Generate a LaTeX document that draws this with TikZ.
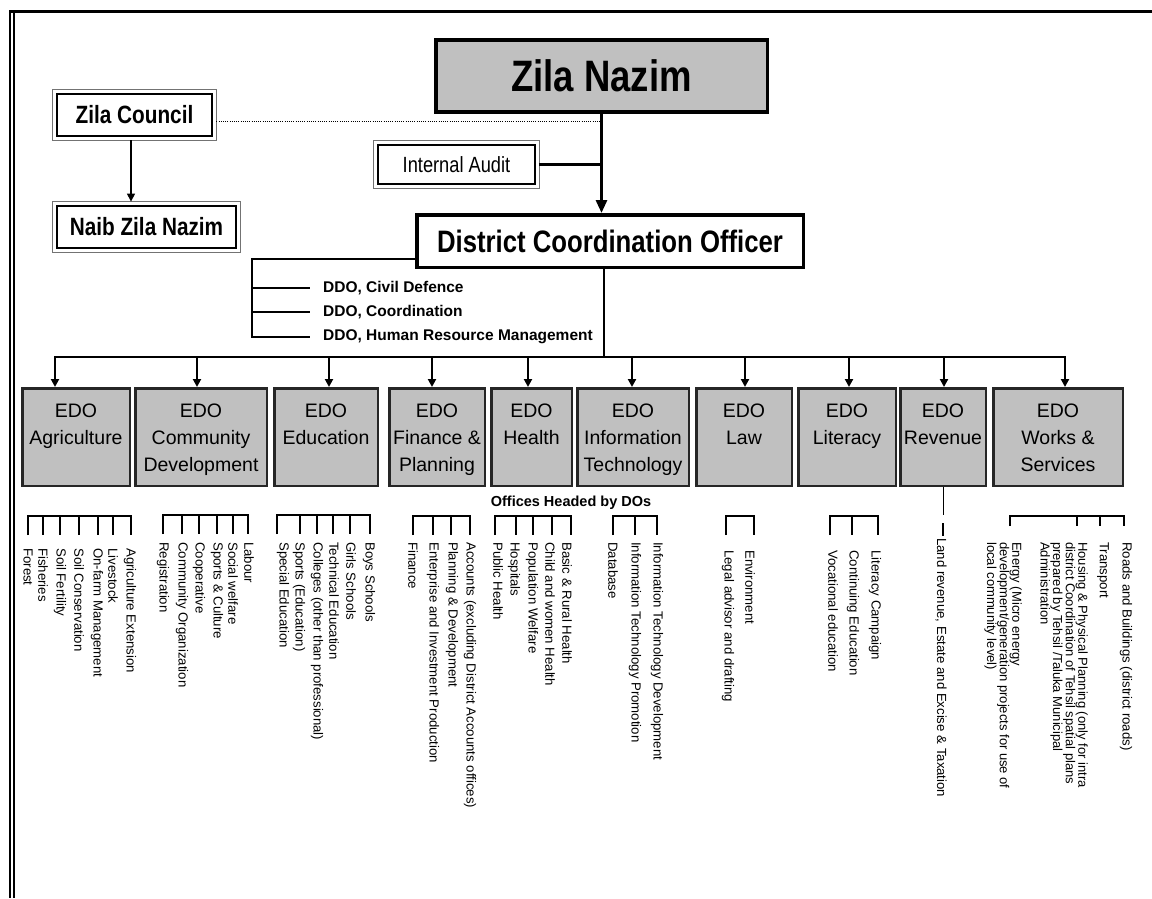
\documentclass[tikz,border=0pt]{standalone}
\usepackage{fontspec}
\setmainfont{Liberation Sans}
\newfontfamily\narrowsans[FakeStretch=0.83]{Liberation Sans}
\usetikzlibrary{arrows.meta}
\definecolor{boxgray}{HTML}{C0C0C0}
\newcommand{\fsz}[2]{\fontsize{#1}{#2}\selectfont}
\begin{document}
\begin{tikzpicture}[x=1pt,y=-1pt,
  frame/.style={line width=2pt},
  conn/.style={line width=2.8pt},
  brk/.style={line width=1.8pt},
  dblbox/.style={draw=black, line width=1.8pt, fill=white, inner sep=0pt, font=\narrowsans\bfseries\fsz{25}{30}},
  outerbox/.style={draw=black!55, line width=0.8pt},
  topbox/.style={draw=black, line width=3.5pt, fill=boxgray, inner sep=0pt, font=\narrowsans\bfseries\fsz{44}{50}},
  dcobox/.style={draw=black, line width=3.5pt, fill=white, inner sep=0pt, font=\narrowsans\bfseries\fsz{31}{36}},
  edo/.style={draw=black!85, line width=2.5pt, fill=boxgray, minimum height=97.5, inner sep=0pt},
  edot/.style={anchor=north, yshift=-17pt, align=center, inner sep=0pt, font=\fsz{19.5}{27}},
  item/.style={rotate=-90, anchor=west, inner sep=0pt, font=\fsz{13.2}{13}},
  mitem/.style={rotate=-90, anchor=north west, inner sep=0pt, align=left, font=\fsz{13}{12.6}},
  ddo/.style={anchor=west, inner sep=0pt, font=\bfseries\fsz{15.5}{18}},
  tipS/.style={-{Triangle[length=8pt,width=8pt]}},
]
\useasboundingbox (0,0) rectangle (1152,898);
\fill[white] (0,0) rectangle (1152,898);
% frame
\draw[line width=2.7pt] (9.5,11.3) -- (1152,11.3);
\draw[frame] (10,10) -- (10,898);
\draw[frame] (14.2,12.5) -- (14.2,898);

% top nodes
\node[topbox, minimum width=331.5, minimum height=72] (zn) at (601.5,76) {Zila Nazim};
\node[dblbox, minimum width=155, minimum height=42] (zc) at (134.5,115) {Zila Council};
\node[dblbox, minimum width=179, minimum height=42] (naib) at (146.5,227) {Naib Zila Nazim};
\node[dblbox, font=\narrowsans\fsz{22}{26}, minimum width=157, minimum height=39] (ia) at (456.5,164.5) {Internal Audit};
\node[dcobox, minimum width=386.5, minimum height=52.5] (dco) at (610,241) {District Coordination Officer};
\foreach \n in {zc,naib,ia}
  \draw[outerbox] ([xshift=-3.5pt,yshift=3.5pt]\n.north west) rectangle ([xshift=3.5pt,yshift=-3.5pt]\n.south east);

% top connectors
\coordinate (zcB) at ([xshift=-3.5pt,yshift=-3.5pt]zc.south);
\coordinate (naibT) at ([yshift=3.5pt]naib.north);
\draw[line width=1.1pt, tipS] (zcB) -- (zcB |- naibT);
\coordinate (zcE) at ([xshift=3.5pt,yshift=-6pt]zc.east);
\draw[line width=0.9pt, dash pattern=on 1pt off 1.2pt] (zcE) -- (zcE -| zn.south);
\draw[conn, -{Triangle[length=13pt,width=11pt]}] (zn.south) -- (zn.south |- dco.north);
\coordinate (iaE) at ([xshift=3pt]ia.east);
\draw[conn] (iaE) -- (iaE -| zn.south);

% DDO
\node[ddo] (d1) at (323,288) {DDO, Civil Defence};
\node[ddo] (d2) at (323,312) {DDO, Coordination};
\node[ddo] (d3) at (323,337) {DDO, Human Resource Management};
\coordinate (dcoL) at ([yshift=-18pt]dco.west);
\draw[conn] (dcoL) -| ([xshift=-71pt]d3.west) -- ([xshift=-13pt]d3.west);
\draw[conn] ([xshift=-71pt]d1.west) -- ([xshift=-13pt]d1.west);
\draw[conn] ([xshift=-71pt]d2.west) -- ([xshift=-13pt]d2.west);

% EDO boxes
\foreach \n/\cx/\w/\ax in {agri/76/107.5/55, comm/201/131.5/197, edu/326/103.5/329, fin/437/95.5/432,
  health/531.5/80.5/528, it/633/111.5/632, law/744/95.5/745, lit/847/97.5/849, rev/943/85.5/944, works/1058/129.5/1065}{
  \node[edo, minimum width=\w] (\n) at (\cx,437) {};
  \coordinate (a-\n) at (\ax,357);
}
\node[edot] (t-agri) at (agri.north) {EDO\\Agriculture};
\node[edot] (t-comm) at (comm.north) {EDO\\Community\\Development};
\node[edot] (t-edu) at (edu.north) {EDO\\Education};
\node[edot] (t-fin) at (fin.north) {EDO\\Finance \&\\Planning};
\node[edot] (t-health) at (health.north) {EDO\\Health};
\node[edot] (t-it) at (it.north) {EDO\\Information\\Technology};
\node[edot] (t-law) at (law.north) {EDO\\Law};
\node[edot] (t-lit) at (lit.north) {EDO\\Literacy};
\node[edot] (t-rev) at (rev.north) {EDO\\Revenue};
\node[edot] (t-works) at (works.north) {EDO\\Works \&\\Services};

% bus and arrows
\coordinate (busC) at (604,357);
\draw[conn] ([xshift=-6pt]dco.south) -- (busC);
\draw[conn, line cap=rect] (a-agri) -- (a-works);
\foreach \n in {agri,comm,edu,fin,health,it,law,lit,rev,works}
  \draw[line width=2.2pt, tipS] (a-\n) -- (a-\n |- \n.north);

% Offices label
\node[inner sep=0pt, font=\bfseries\fsz{14.5}{16}] (offices) at (571,503) {Offices Headed by DOs};

% Agriculture
\draw[brk] (28,535) -- (28,516) -- (131,516) -- (131,535);
\foreach \x in {43,60,79,98,113} \draw[brk] (\x,516) -- (\x,535);
\foreach \x/\t in {28/{Forest},43/{Fisheries},60/{Soil Fertility},79/{Soil Conservation},97/{On-farm Management},113/{Livestock},130/{Agriculture Extension}}
  \node[item] (ag-\x) at (\x,548) {\t};

% Community development
\draw[brk] (163,534) -- (163,515) -- (248,515) -- (248,534);
\foreach \x in {182,199,217,233} \draw[brk] (\x,515) -- (\x,534);
\foreach \x/\t in {163/{Registration},182/{Community Organization},199/{Cooperative},217/{Sports \& Culture},233/{Social welfare},249/{Labour}}
  \node[item] (cd-\x) at (\x,542) {\t};

% Education
\draw[brk] (277,534) -- (277,515) -- (370,515) -- (370,534);
\foreach \x in {300,317,333,350} \draw[brk] (\x,515) -- (\x,534);
\foreach \x/\t in {283/{Special Education},299/{Sports (Education)},317/{Colleges (other than professional)},334/{Technical Education},351/{Girls Schools},369/{Boys Schools}}
  \node[item] (ed-\x) at (\x,542) {\t};

% Finance
\draw[brk] (413,535) -- (413,516) -- (470,516) -- (470,535);
\foreach \x in {433,451} \draw[brk] (\x,516) -- (\x,535);
\foreach \x/\t in {413/{Finance},433/{Enterprise and Investment Production},452/{Planning \& Development},470/{Accounts (excluding District Accounts offices)}}
  \node[item] (fi-\x) at (\x,542) {\t};

% Health
\draw[brk] (495,535) -- (495,516) -- (571,516) -- (571,535);
\foreach \x in {516,533,552} \draw[brk] (\x,516) -- (\x,535);
\foreach \x/\t in {498/{Public Health},514/{Hospitals},532/{Population Welfare},550/{Child and women Health},567/{Basic \& Rural Health}}
  \node[item] (he-\x) at (\x,542) {\t};

% IT
\draw[brk] (613,535) -- (613,516) -- (657,516) -- (657,535);
\draw[brk] (635,516) -- (635,535);
\foreach \x/\t in {613/{Database},635/{Information Technology Promotion},657/{Information Technology Development}}
  \node[item] (itx-\x) at (\x,542) {\t};

% Law
\draw[brk] (726,535) -- (726,516) -- (754,516) -- (754,535);
\foreach \x/\t in {728/{Legal advisor and drafting},750/{Environment}}
  \node[item] (la-\x) at (\x,550) {\t};

% Literacy
\draw[brk] (830,535) -- (830,516) -- (878,516) -- (878,535);
\draw[brk] (852,516) -- (852,535);
\foreach \x/\t in {833/{Vocational education},853/{Continuing Education},875/{Literacy Campaign}}
  \node[item] (li-\x) at (\x,550) {\t};

% Revenue
\node[item] (re-1) at (941,538) {Land revenue, Estate and Excise \& Taxation};
\coordinate (revEnd) at (943,515);
\draw[line width=1pt] (rev.south) -- (rev.south |- revEnd);
\draw[brk] (943,523) -- (943,536);

% Works & Services
\draw[brk] (1010,526) -- (1010,516) -- (1124,516) -- (1124,526);
\foreach \x in {1077,1100} \draw[brk] (\x,516) -- (\x,526);
\node[mitem] (wo-1) at (1022,542) {Energy (Micro energy\\development/generation projects for use of\\local community level)};
\node[mitem] (wo-2) at (1088,542) {Housing \& Physical Planning (only for intra\\district Coordination of Tehsil spatial plans\\prepared by Tehsil /Taluka Municipal\\Administration};
\node[item] (wo-3) at (1103,542) {Transport};
\node[item] (wo-4) at (1126,542) {Roads and Buildings (district roads)};
\end{tikzpicture}
\end{document}
